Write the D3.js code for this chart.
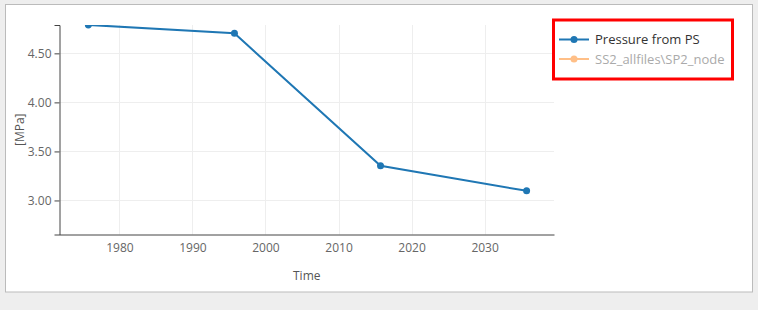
<!DOCTYPE html>
<html><head><meta charset="utf-8">
<script src="https://cdn.jsdelivr.net/npm/d3@7"></script>
<style>
html,body{margin:0;padding:0;background:#eeeeee;}
svg{display:block;font-family:"Open Sans",sans-serif;}
</style></head>
<body>
<svg id="c" width="758" height="310"></svg>
<script>
const years = [1975.75, 1995.75, 2015.75, 2035.75];
const pressure = [4.79, 4.704, 3.353, 3.098];
const xTicks = [1980, 1990, 2000, 2010, 2020, 2030];
const yTicks = [3.0, 3.5, 4.0, 4.5];
const seriesNames = ["Pressure from PS", "SS2_allfiles\\SP2_node"];

const svg = d3.select("#c");
svg.append("rect").attr("x",5.5).attr("y",4.5).attr("width",747).attr("height",287.5)
  .attr("fill","#fff").attr("stroke","#bbbbbb");

const L=59.5, R=554, T=25, B=234.5;
const x = d3.scaleLinear().domain([1971.8, 2039.5]).range([L, R]);
const y = d3.scaleLinear().domain([2.653, 4.789]).range([B, T]);

// grid
const g = svg.append("g");
g.selectAll(".vx").data(xTicks).join("line")
  .attr("x1",d=>Math.round(x(d))+0.5).attr("x2",d=>Math.round(x(d))+0.5)
  .attr("y1",T).attr("y2",B).attr("stroke","#eeeeee");
g.selectAll(".hy").data(yTicks).join("line")
  .attr("y1",d=>Math.round(y(d))+0.5).attr("y2",d=>Math.round(y(d))+0.5)
  .attr("x1",L).attr("x2",R).attr("stroke","#eeeeee");

// axes
const xa = svg.append("g").attr("transform",`translate(0,${B})`)
  .call(d3.axisBottom(x).tickValues(xTicks).tickFormat(d3.format("d")).tickSize(0).tickPadding(9));
xa.select(".domain").attr("stroke","#444");
xa.selectAll("text").attr("fill","#666").attr("font-size","12px").attr("font-family","Open Sans");

const ya = svg.append("g").attr("transform",`translate(${L},0)`)
  .call(d3.axisLeft(y).tickValues(yTicks).tickFormat(d3.format(".2f")).tickSizeOuter(0).tickSize(5).tickPadding(3));
ya.select(".domain").attr("stroke","#444");
ya.selectAll(".tick line").attr("stroke","#444");
ya.selectAll("text").attr("fill","#666").attr("font-size","12px").attr("font-family","Open Sans");

svg.append("text").attr("x",(L+R)/2).attr("y",280).attr("text-anchor","middle")
  .attr("fill","#555").attr("font-size","12px").text("Time");
svg.append("text").attr("transform",`translate(24,${(T+B)/2}) rotate(-90)`).attr("text-anchor","middle")
  .attr("fill","#555").attr("font-size","12px").text("[MPa]");

// data
svg.append("clipPath").attr("id","clip").append("rect").attr("x",L).attr("y",T).attr("width",R-L).attr("height",B-T);
const data = years.map((yr,i)=>({yr, v:pressure[i]}));
const pg = svg.append("g").attr("clip-path","url(#clip)");
pg.append("path").datum(data).attr("fill","none").attr("stroke","#1f77b4").attr("stroke-width",2)
  .attr("d", d3.line().x(d=>x(d.yr)).y(d=>y(d.v)));
pg.selectAll("circle").data(data).join("circle").attr("cx",d=>x(d.yr)).attr("cy",d=>y(d.v))
  .attr("r",3.5).attr("fill","#1f77b4");

// legend
const lg = svg.append("g");
lg.append("rect").attr("x",553.5).attr("y",20).attr("width",179).attr("height",59)
  .attr("fill","none").attr("stroke","#ff0000").attr("stroke-width",3);
const colors = ["#1f77b4","#ffbf87"];
const tcol = ["#333","#aaaaaa"];
seriesNames.forEach((n,i)=>{
  const yy = 39.5 + i*19.5;
  lg.append("line").attr("x1",559).attr("x2",589).attr("y1",yy).attr("y2",yy).attr("stroke",colors[i]).attr("stroke-width",2);
  lg.append("circle").attr("cx",574).attr("cy",yy).attr("r",3.5).attr("fill",colors[i]);
  lg.append("text").attr("x",595).attr("y",yy+4.5).attr("fill",tcol[i]).attr("font-size","13px").text(n);
});
</script>
</body></html>
